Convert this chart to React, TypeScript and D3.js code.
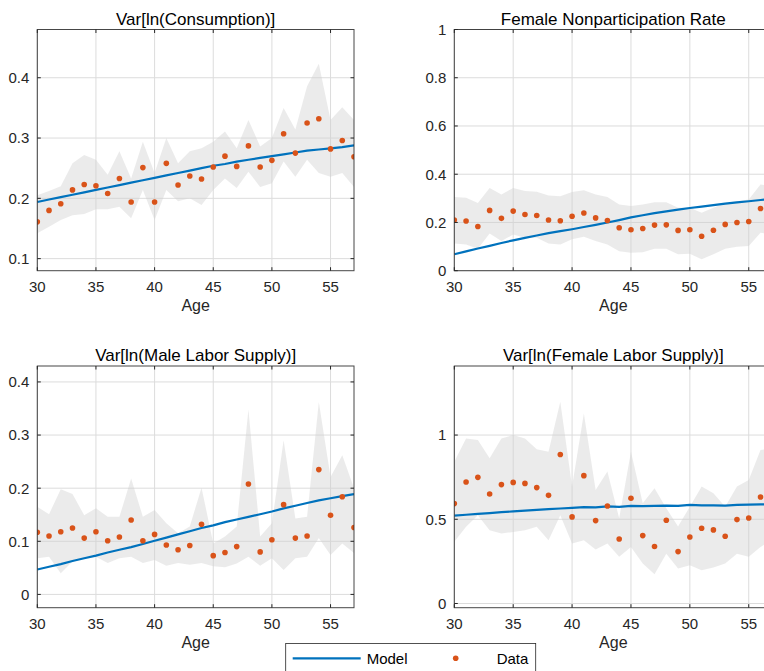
import React from "react";
import * as d3 from "d3";

const ages = [30,31,32,33,34,35,36,37,38,39,40,41,42,43,44,45,46,47,48,49,50,51,52,53,54,55,56,57];
const xTicks = [30, 35, 40, 45, 50, 55];

const titles = [
  "Var[ln(Consumption)]",
  "Female Nonparticipation Rate",
  "Var[ln(Male Labor Supply)]",
  "Var[ln(Female Labor Supply)]",
];

// Panel 1: Var[ln(Consumption)]
const consModel = [0.194,0.198,0.202,0.206,0.210,0.214,0.218,0.222,0.226,0.230,0.234,0.238,0.242,0.246,0.250,0.254,0.257,0.261,0.264,0.267,0.270,0.273,0.276,0.279,0.281,0.283,0.285,0.288];
const consData = [0.161,0.180,0.191,0.214,0.223,0.221,0.208,0.233,0.194,0.251,0.194,0.258,0.222,0.237,0.232,0.252,0.270,0.253,0.287,0.252,0.263,0.307,0.275,0.325,0.332,0.282,0.296,0.269];
const consUpper = [0.205,0.212,0.220,0.258,0.272,0.264,0.239,0.278,0.233,0.294,0.242,0.300,0.258,0.278,0.283,0.294,0.311,0.283,0.330,0.286,0.300,0.350,0.314,0.386,0.423,0.330,0.351,0.330];
const consLower = [0.142,0.153,0.164,0.172,0.174,0.182,0.182,0.186,0.167,0.214,0.164,0.214,0.195,0.200,0.189,0.214,0.233,0.217,0.244,0.219,0.225,0.261,0.236,0.264,0.242,0.236,0.242,0.219];
const consTicks = [0.1, 0.2, 0.3, 0.4];

// Panel 2: Female Nonparticipation Rate
const nonpModel = [0.068,0.080,0.092,0.103,0.115,0.126,0.136,0.146,0.156,0.164,0.172,0.181,0.190,0.200,0.210,0.221,0.230,0.239,0.246,0.253,0.260,0.266,0.272,0.278,0.283,0.288,0.293,0.298];
const nonpData = [0.210,0.206,0.183,0.250,0.217,0.247,0.233,0.229,0.210,0.207,0.226,0.239,0.219,0.208,0.178,0.170,0.175,0.189,0.190,0.167,0.170,0.143,0.168,0.192,0.200,0.204,0.258,0.262];
const nonpUpper = [0.306,0.302,0.281,0.343,0.316,0.343,0.330,0.327,0.312,0.309,0.326,0.334,0.316,0.306,0.274,0.268,0.274,0.284,0.284,0.261,0.261,0.240,0.261,0.281,0.288,0.295,0.357,0.350];
const nonpLower = [0.113,0.109,0.091,0.154,0.123,0.150,0.137,0.137,0.113,0.109,0.130,0.141,0.123,0.109,0.081,0.074,0.077,0.091,0.091,0.068,0.070,0.047,0.068,0.091,0.099,0.102,0.157,0.150];
const nonpTicks = [0, 0.2, 0.4, 0.6, 0.8, 1];

// Panel 3: Var[ln(Male Labor Supply)]
const maleModel = [0.047,0.052,0.057,0.063,0.068,0.073,0.079,0.084,0.089,0.095,0.101,0.107,0.113,0.119,0.125,0.130,0.136,0.141,0.146,0.151,0.156,0.162,0.167,0.172,0.177,0.181,0.185,0.189];
const maleData = [0.117,0.110,0.118,0.125,0.106,0.118,0.101,0.108,0.140,0.101,0.113,0.093,0.084,0.092,0.132,0.073,0.079,0.090,0.208,0.080,0.103,0.169,0.106,0.110,0.235,0.149,0.184,0.126];
const maleUpper = [0.165,0.151,0.198,0.189,0.149,0.162,0.146,0.146,0.218,0.146,0.159,0.134,0.115,0.128,0.201,0.096,0.109,0.128,0.348,0.109,0.134,0.290,0.143,0.146,0.362,0.221,0.262,0.200];
const maleLower = [0.068,0.071,0.040,0.062,0.068,0.071,0.059,0.068,0.071,0.059,0.065,0.054,0.059,0.056,0.059,0.053,0.051,0.058,0.071,0.054,0.068,0.046,0.068,0.071,0.106,0.074,0.096,0.078];
const maleTicks = [0, 0.1, 0.2, 0.3, 0.4];

// Panel 4: Var[ln(Female Labor Supply)]
const femModel = [0.522,0.527,0.532,0.537,0.542,0.547,0.551,0.556,0.560,0.564,0.568,0.572,0.571,0.576,0.574,0.579,0.578,0.580,0.581,0.579,0.585,0.582,0.583,0.581,0.586,0.587,0.588,0.589];
const femData = [0.593,0.721,0.749,0.650,0.706,0.719,0.713,0.688,0.642,0.885,0.514,0.759,0.492,0.579,0.383,0.625,0.403,0.338,0.494,0.308,0.395,0.447,0.437,0.399,0.498,0.508,0.632,0.600];
const femUpper = [0.842,0.980,0.970,0.862,0.980,1.000,0.980,0.915,0.901,1.198,0.694,1.128,0.674,0.783,0.506,0.901,0.595,0.684,0.565,0.457,0.575,0.694,0.654,0.575,0.694,0.733,0.911,0.920];
const femLower = [0.366,0.455,0.524,0.435,0.415,0.425,0.435,0.455,0.375,0.524,0.356,0.375,0.320,0.356,0.277,0.336,0.237,0.174,0.296,0.207,0.227,0.198,0.213,0.237,0.296,0.277,0.336,0.377];
const femTicks = [0, 0.5, 1];

const LINE = "#0072BD";
const DOT = "#D95319";
const AXIS = "#262626";
const FONT = "'Liberation Sans', Arial, Helvetica, sans-serif";

type PanelProps = {
  title: string;
  left: number; right: number; top: number; bottom: number;
  yDomain: [number, number];
  yTicks: number[];
  model: number[]; data: number[]; upper: number[]; lower: number[];
  id: string;
};

function Panel(p: PanelProps) {
  const x = d3.scaleLinear().domain([30, 57]).range([p.left, p.right]);
  const y = d3.scaleLinear().domain(p.yDomain).range([p.bottom, p.top]);
  const rows = ages.map((a, i) => ({ a, m: p.model[i], d: p.data[i], u: p.upper[i], l: p.lower[i] }));
  const area = d3.area<any>().x(r => x(r.a)).y0(r => y(r.l)).y1(r => y(r.u));
  const line = d3.line<any>().x(r => x(r.a)).y(r => y(r.m));
  const tl = 3.5;
  const fmt = (v: number) => String(v);
  return (
    <g>
      <defs>
        <clipPath id={p.id}>
          <rect x={p.left} y={p.top} width={p.right - p.left} height={p.bottom - p.top} />
        </clipPath>
      </defs>
      <rect x={p.left} y={p.top} width={p.right - p.left} height={p.bottom - p.top} fill="#fff" />
      {xTicks.map(t => (
        <line key={"gx" + t} x1={x(t)} x2={x(t)} y1={p.top} y2={p.bottom} stroke="#dcdcdc" strokeWidth={1} />
      ))}
      {p.yTicks.map(t => (
        <line key={"gy" + t} x1={p.left} x2={p.right} y1={y(t)} y2={y(t)} stroke="#dcdcdc" strokeWidth={1} />
      ))}
      <g clipPath={`url(#${p.id})`}>
        <path d={area(rows) || ""} fill="#d0d0d0" fillOpacity={0.42} stroke="none" />
        <path d={line(rows) || ""} fill="none" stroke={LINE} strokeWidth={2.2} />
        {rows.map(r => (
          <circle key={"d" + r.a} cx={x(r.a)} cy={y(r.d)} r={2.8} fill={DOT} />
        ))}
      </g>
      <rect x={p.left} y={p.top} width={p.right - p.left} height={p.bottom - p.top} fill="none" stroke={AXIS} strokeOpacity={0.85} strokeWidth={1} />
      {xTicks.map(t => (
        <g key={"tx" + t}>
          <line x1={x(t)} x2={x(t)} y1={p.bottom} y2={p.bottom - tl} stroke={AXIS} />
          <line x1={x(t)} x2={x(t)} y1={p.top} y2={p.top + tl} stroke={AXIS} />
          <text x={x(t)} y={p.bottom + 21} textAnchor="middle" fontSize={15} fill={AXIS} fontFamily={FONT}>{t}</text>
        </g>
      ))}
      {p.yTicks.map(t => (
        <g key={"ty" + t}>
          <line x1={p.left} x2={p.left + tl} y1={y(t)} y2={y(t)} stroke={AXIS} />
          <line x1={p.right} x2={p.right - tl} y1={y(t)} y2={y(t)} stroke={AXIS} />
          <text x={p.left - 8} y={y(t)} dy="0.36em" textAnchor="end" fontSize={15} fill={AXIS} fontFamily={FONT}>{fmt(t)}</text>
        </g>
      ))}
      <text x={(p.left + p.right) / 2} y={p.top - 5} textAnchor="middle" fontSize={17} fill="#000" fontFamily={FONT}>{p.title}</text>
      <text x={(p.left + p.right) / 2} y={p.bottom + 40} textAnchor="middle" fontSize={16} fill={AXIS} fontFamily={FONT}>Age</text>
    </g>
  );
}

export default function App() {
  const W = 764, H = 671;
  return (
    <div style={{ position: "absolute", left: 0, top: 0, width: W, height: H, overflow: "hidden", background: "#fff" }}>
      <svg width={W} height={H} viewBox={`0 0 ${W} ${H}`} style={{ display: "block" }}>
        <rect width={W} height={H} fill="#fff" />
        <Panel id="c1" title={titles[0]} left={37.3} right={354} top={29.5} bottom={270.7}
          yDomain={[0.08, 0.48]} yTicks={consTicks}
          model={consModel} data={consData} upper={consUpper} lower={consLower} />
        <Panel id="c2" title={titles[1]} left={454.3} right={772.3} top={29.5} bottom={270.7}
          yDomain={[0, 1]} yTicks={nonpTicks}
          model={nonpModel} data={nonpData} upper={nonpUpper} lower={nonpLower} />
        <Panel id="c3" title={titles[2]} left={37.3} right={354} top={366} bottom={607.7}
          yDomain={[-0.025, 0.43]} yTicks={maleTicks}
          model={maleModel} data={maleData} upper={maleUpper} lower={maleLower} />
        <Panel id="c4" title={titles[3]} left={454.3} right={772.3} top={366} bottom={607.7}
          yDomain={[-0.025, 1.41]} yTicks={femTicks}
          model={femModel} data={femData} upper={femUpper} lower={femLower} />
        <g>
          <rect x={285.7} y={643.5} width={250} height={34} fill="#fff" stroke={AXIS} strokeWidth={0.8} />
          <line x1={292.7} x2={360.7} y1={658.3} y2={658.3} stroke={LINE} strokeWidth={2.2} />
          <text x={366.7} y={663.7} fontSize={15} fill="#000" fontFamily={FONT}>Model</text>
          <circle cx={455.7} cy={658.3} r={2.8} fill={DOT} />
          <text x={496.7} y={663.7} fontSize={15} fill="#000" fontFamily={FONT}>Data</text>
        </g>
      </svg>
    </div>
  );
}
